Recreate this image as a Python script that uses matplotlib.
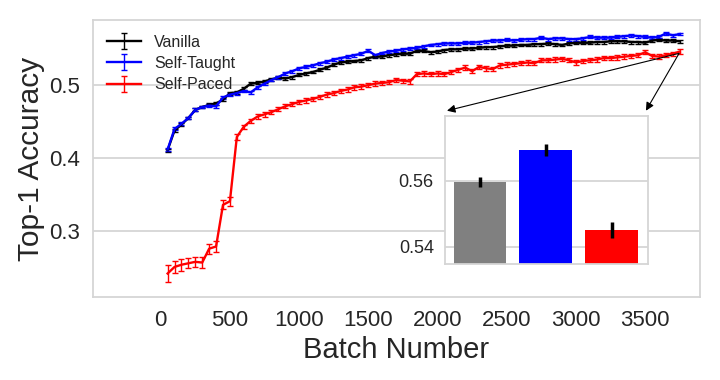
import numpy as np
import matplotlib
matplotlib.use('Agg')
import matplotlib.pyplot as plt

plt.rcParams['font.family'] = ['Liberation Sans', 'DejaVu Sans']

# batch numbers (every 50 batches)
batches = list(range(50, 3800, 50))

vanilla = [0.411, 0.438, 0.446, 0.455, 0.466, 0.470, 0.473, 0.475, 0.480, 0.489,
           0.490, 0.495, 0.502, 0.503, 0.505, 0.508, 0.510, 0.509, 0.511, 0.514,
           0.516, 0.518, 0.521, 0.524, 0.528, 0.531, 0.532, 0.533, 0.534, 0.537,
           0.539, 0.539, 0.541, 0.542, 0.543, 0.543, 0.547, 0.547, 0.545, 0.546,
           0.548, 0.549, 0.549, 0.550, 0.550, 0.551, 0.552, 0.552, 0.553, 0.554,
           0.554, 0.555, 0.555, 0.556, 0.556, 0.557, 0.556, 0.555, 0.557, 0.558,
           0.558, 0.558, 0.559, 0.559, 0.560, 0.560, 0.560, 0.559, 0.559, 0.558,
           0.561, 0.562, 0.561, 0.561, 0.560]

self_taught = [0.412, 0.440, 0.447, 0.455, 0.466, 0.470, 0.472, 0.471, 0.483, 0.487,
               0.489, 0.492, 0.490, 0.497, 0.502, 0.507, 0.511, 0.516, 0.519, 0.523,
               0.525, 0.527, 0.530, 0.532, 0.535, 0.537, 0.539, 0.541, 0.543, 0.547,
               0.541, 0.544, 0.546, 0.547, 0.549, 0.550, 0.551, 0.553, 0.555, 0.556,
               0.557, 0.557, 0.557, 0.558, 0.558, 0.559, 0.560, 0.561, 0.561, 0.562,
               0.561, 0.562, 0.563, 0.563, 0.565, 0.563, 0.564, 0.564, 0.563, 0.563,
               0.564, 0.566, 0.565, 0.565, 0.565, 0.566, 0.567, 0.568, 0.567, 0.566,
               0.565, 0.566, 0.571, 0.568, 0.570]

self_paced = [0.242, 0.251, 0.254, 0.256, 0.258, 0.257, 0.276, 0.279, 0.336, 0.341,
              0.429, 0.443, 0.451, 0.457, 0.460, 0.463, 0.467, 0.471, 0.474, 0.477,
              0.479, 0.481, 0.484, 0.487, 0.489, 0.492, 0.494, 0.497, 0.498, 0.500,
              0.502, 0.503, 0.504, 0.507, 0.506, 0.505, 0.515, 0.516, 0.515, 0.516,
              0.515, 0.518, 0.521, 0.524, 0.519, 0.525, 0.523, 0.522, 0.527, 0.528,
              0.529, 0.530, 0.531, 0.530, 0.534, 0.534, 0.535, 0.536, 0.534, 0.531,
              0.533, 0.534, 0.535, 0.537, 0.537, 0.538, 0.539, 0.540, 0.541, 0.545,
              0.540, 0.539, 0.541, 0.543, 0.546]

vanilla_err = [0.002] * 75
self_taught_err = [0.002] * 75
self_paced_err = [0.012, 0.008, 0.008, 0.007, 0.007, 0.007, 0.007, 0.007, 0.006, 0.006,
                  0.004] + [0.003] * 64

# final accuracy (inset)
final_labels = ['Vanilla', 'Self-Taught', 'Self-Paced']
final_acc = [0.5597, 0.5694, 0.5452]
final_err = [0.0016, 0.0017, 0.0025]

grid_col = '#d5d5d5'
txt_col = '#262626'

fig = plt.figure(figsize=(7.2, 3.8), dpi=100)
ax = fig.add_axes([0.129, 0.218, 0.843, 0.729])

ax.errorbar(batches, vanilla, yerr=vanilla_err, color='black', lw=1.7,
            elinewidth=1, capsize=2, label='Vanilla')
ax.errorbar(batches, self_taught, yerr=self_taught_err, color='blue', lw=1.7,
            elinewidth=1, capsize=2, label='Self-Taught')
ax.errorbar(batches, self_paced, yerr=self_paced_err, color='red', lw=1.7,
            elinewidth=1, capsize=2, label='Self-Paced')

ax.set_xlim(-490, 3895)
ax.set_ylim(0.2096, 0.589)
ax.set_xticks([0, 500, 1000, 1500, 2000, 2500, 3000, 3500])
ax.set_yticks([0.3, 0.4, 0.5])
ax.grid(axis='y', color=grid_col, lw=1.3)
ax.set_axisbelow(True)
ax.tick_params(length=0, labelsize=16, labelcolor=txt_col, pad=9)
for s in ax.spines.values():
    s.set_color(grid_col)
    s.set_linewidth(1.3)
ax.set_xlabel('Batch Number', fontsize=21, color=txt_col, labelpad=4)
ax.set_ylabel('Top-1 Accuracy', fontsize=21.5, color=txt_col, labelpad=3)

leg = ax.legend(loc='upper left', frameon=False, fontsize=11.5,
                handlelength=2.1, handletextpad=0.85, labelspacing=0.4)
for t in leg.get_texts():
    t.set_color(txt_col)

# inset with final accuracies
ins = fig.add_axes([0.618, 0.305, 0.282, 0.390])
ins.set_zorder(5)
ins.bar(range(3), final_acc, width=0.8, color=['gray', 'blue', 'red'],
        yerr=final_err, error_kw=dict(ecolor='black', elinewidth=2.5, capsize=0))
ins.set_xlim(-0.53, 2.55)
ins.set_ylim(0.5348, 0.5797)
ins.set_xticks([])
ins.set_yticks([0.54, 0.56])
ins.set_yticklabels(['0.54', '0.56'])
ins.grid(axis='y', color=grid_col, lw=1.3)
ins.set_axisbelow(True)
ins.tick_params(length=0, labelsize=13, labelcolor=txt_col, pad=8)
for s in ins.spines.values():
    s.set_color(grid_col)
    s.set_linewidth(1.3)

# arrows from the curve ends to the inset
for xa in (0.01, 0.99):
    ax.annotate('', xy=(xa, 1.035), xycoords=ins.transAxes,
                xytext=(3745, 0.5435), textcoords='data',
                arrowprops=dict(arrowstyle='-|>', color='black', lw=0.8,
                                mutation_scale=12, shrinkA=0, shrinkB=0))

fig.savefig('out.png', dpi=100)
